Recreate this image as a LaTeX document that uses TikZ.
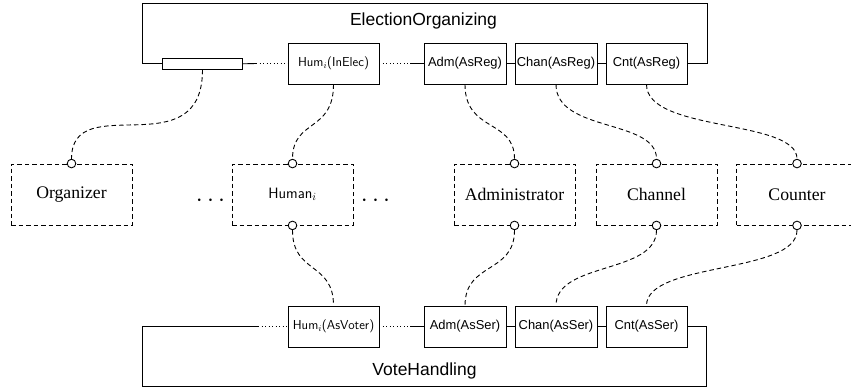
\documentclass[tikz,border=0pt]{standalone}
\usepackage{fontspec}
\newfontfamily\arialf{Liberation Sans}
\newfontfamily\tnrf{Liberation Serif}
\begin{document}
\begin{tikzpicture}[x=1pt,y=-1pt,line width=0.9pt,
  rolebox/.style={draw,rectangle,minimum height=41pt,inner sep=0pt,font=\arialf\fontsize{12.9}{15}\selectfont},
  humbox/.style={rolebox,minimum width=91pt,font=\sffamily\fontsize{13}{15}\selectfont},
  agent/.style={draw,rectangle,dash pattern=on 4.5pt off 3pt,minimum width=121pt,minimum height=61pt,inner sep=0pt,font=\tnrf\fontsize{17.7}{20}\selectfont},
  port/.style={draw,solid,circle,fill=white,minimum size=8.6pt,inner sep=0pt},
  wire/.style={dash pattern=on 4.5pt off 3pt},
  dotline/.style={dash pattern=on 0.9pt off 2.6pt},
  title/.style={font=\arialf\fontsize{17.5}{20}\selectfont,anchor=base,inner sep=0pt},
  dotsnode/.style={anchor=base,inner sep=0pt,font=\fontsize{30}{30}\selectfont}]
\clip (0,0) rectangle (851,388);
% top role boxes
\node[draw,rectangle,minimum width=80.5pt,minimum height=11pt,inner sep=0pt] (orgR) at (202.5,63.8) {};
\node[humbox] (humR) at (333.5,63.5) {Hum$_i$(InElec)};
\node[rolebox,minimum width=82pt] (admR) at (465,63.5) {Adm(AsReg)};
\node[rolebox,minimum width=82pt] (chanR) at (556,63.5) {Chan(AsReg)};
\node[rolebox,minimum width=81pt] (cntR) at (646.5,63.5) {Cnt(AsReg)};
\node[title] (eo) at (423.5,25) {ElectionOrganizing};
% bottom role boxes
\node[humbox] (humS) at (333.5,326.5) {Hum$_i$(AsVoter)};
\node[rolebox,minimum width=82pt] (admS) at (465,326.5) {Adm(AsSer)};
\node[rolebox,minimum width=82pt] (chanS) at (556,326.5) {Chan(AsSer)};
\node[rolebox,minimum width=81pt] (cntS) at (646.5,326.5) {Cnt(AsSer)};
\node[title] (vh) at (424.5,375) {VoteHandling};
% agents
\node[agent] (org) at (71.5,194.5) {Organizer};
\node[agent,font=\sffamily\fontsize{15}{18}\selectfont] (hum) at (292.5,194.5) {Human$_i$};
\node[agent] (adm) at (514.5,194.5) {Administrator};
\node[agent] (chan) at (656.5,194.5) {Channel};
\node[agent] (cnt) at (797,194.5) {Counter};
\node[dotsnode] (d1) at (210.5,206.5) {$\cdots$};
\node[dotsnode] (d2) at (375.5,206.5) {$\cdots$};
% ports
\node[port] (pOrg) at (org.north) {};
\node[port] (pHumT) at (hum.north) {};
\node[port] (pHumB) at (hum.south) {};
\node[port] (pAdmT) at (adm.north) {};
\node[port] (pAdmB) at (adm.south) {};
\node[port] (pChanT) at (chan.north) {};
\node[port] (pChanB) at (chan.south) {};
\node[port] (pCntT) at (cnt.north) {};
\node[port] (pCntB) at (cnt.south) {};
% top loop
\coordinate (tl) at (142,3);
\coordinate (tr) at (707,63.5);
\coordinate (ta) at (256,63.5);
\coordinate (tb) at (410,63.5);
\draw (orgR.west) -| (tl) -| (tr) -- (cntR.east);
\draw (orgR.east) -- (ta);
\draw[dotline] (ta) -- (humR.west);
\draw[dotline] (humR.east) -- (tb);
\draw (tb) -- (admR.west);
\draw (admR.east) -- (chanR.west);
\draw (chanR.east) -- (cntR.west);
% bottom loop
\coordinate (bl) at (142,386);
\coordinate (br) at (706,326.5);
\coordinate (ba) at (258,326.5);
\coordinate (bb) at (410,326.5);
\draw (ba) -| (bl) -| (br) -- (cntS.east);
\draw[dotline] (ba) -- (humS.west);
\draw[dotline] (humS.east) -- (bb);
\draw (bb) -- (admS.west);
\draw (admS.east) -- (chanS.west);
\draw (chanS.east) -- (cntS.west);
% wires top
\draw[wire] (orgR.south) .. controls +(0,99) and +(0,-71) .. (pOrg.north);
\draw[wire] (humR.south) .. controls +(0,48) and +(0,-40) .. (pHumT.north);
\draw[wire] (admR.south) .. controls +(0,48) and +(0,-40) .. (pAdmT.north);
\draw[wire] (chanR.south) .. controls +(0,48) and +(0,-40) .. (pChanT.north);
\draw[wire] (cntR.south) .. controls +(0,48) and +(0,-40) .. (pCntT.north);
% wires bottom
\draw[wire] (pHumB.south) .. controls +(0,44) and +(0,-44) .. (humS.north);
\draw[wire] (pAdmB.south) .. controls +(0,44) and +(0,-44) .. (admS.north);
\draw[wire] (pChanB.south) .. controls +(0,44) and +(0,-44) .. (chanS.north);
\draw[wire] (pCntB.south) .. controls +(0,44) and +(0,-44) .. (cntS.north);
\end{tikzpicture}
\end{document}
